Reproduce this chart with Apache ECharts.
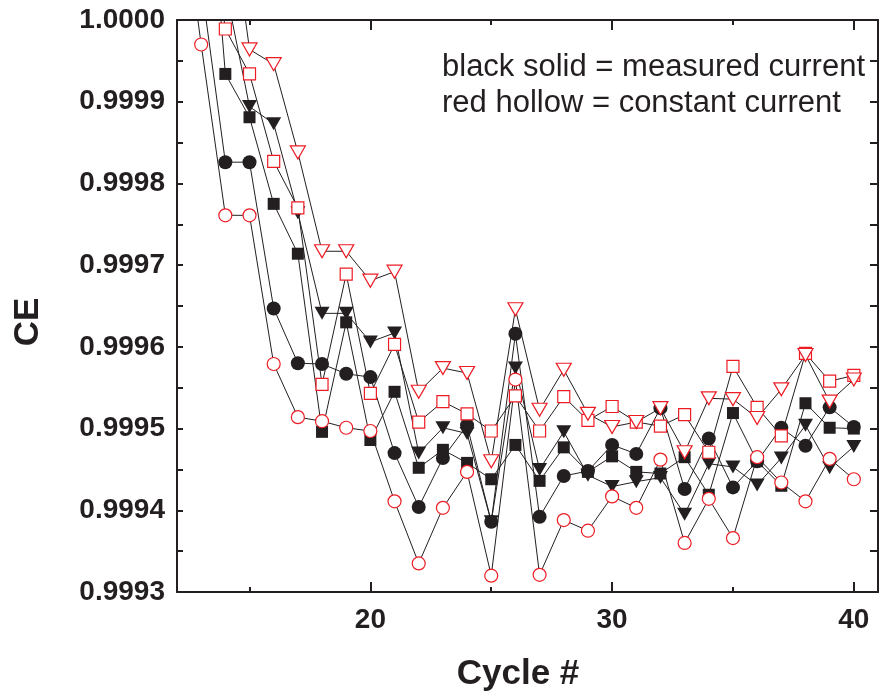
<!DOCTYPE html>
<html>
<head>
<meta charset="utf-8">
<script src="https://cdn.jsdelivr.net/npm/echarts@6/dist/echarts.min.js"></script>
<style>
html,body{margin:0;padding:0;background:#fff;}
#chart{width:880px;height:692px;}
</style>
</head>
<body>
<div id="chart"></div>
<script>
// ---- data ----
const cycles = [12,13,14,15,16,17,18,19,20,21,22,23,24,25,26,27,28,29,30,31,32,33,34,35,36,37,38,39,40];

// black solid = measured current
const blackSquare = [null,1.0003,0.999934,0.999881,0.999775,0.999714,0.999496,0.99963,0.999486,0.999545,0.999452,0.999474,0.999458,0.999438,0.99948,0.999436,0.999477,0.999447,0.999466,0.999447,0.999445,0.999465,0.999419,0.999519,0.99946,0.99943,0.999531,0.999501,0.9995];
const blackCircle = [null,1.000045,0.999826,0.999826,0.999647,0.99958,0.999579,0.999567,0.999563,0.99947,0.999404,0.999464,0.999504,0.999386,0.999616,0.999392,0.999442,0.999448,0.99948,0.999469,0.999525,0.999426,0.999488,0.999428,0.99946,0.999501,0.999479,0.999526,0.999502];
const blackTriangle = [null,null,1.00004,0.999894,0.999873,0.999764,0.999641,0.999641,0.999606,0.999617,0.99947,0.999501,0.999494,0.999386,0.999574,0.99945,0.999496,0.999443,0.999429,0.999435,0.99944,0.999395,0.999457,0.999453,0.999431,0.999464,0.999504,0.999452,0.999478];

// red hollow = constant current
const redSquare = [null,1.0002,0.999989,0.999934,0.999827,0.99977,0.999554,0.999689,0.999543,0.999603,0.999508,0.999533,0.999518,0.999497,0.99954,0.999497,0.999539,0.99951,0.999527,0.999508,0.999503,0.999517,0.999471,0.999576,0.999526,0.999491,0.999592,0.999558,0.999565];
const redCircle = [1.00019,0.99997,0.999761,0.999761,0.999579,0.999514,0.999509,0.999501,0.999497,0.999411,0.999335,0.999403,0.999447,0.99932,0.99956,0.999321,0.999388,0.999375,0.999417,0.999403,0.999462,0.99936,0.999414,0.999366,0.999465,0.999434,0.999411,0.999463,0.999438];
const redTriangle = [null,null,1.00018,0.999964,0.999946,0.999838,0.999717,0.999717,0.999681,0.999692,0.999545,0.999574,0.999568,0.99946,0.999646,0.999523,0.999572,0.999518,0.999502,0.999508,0.999525,0.999471,0.999537,0.999536,0.999513,0.999548,0.99959,0.999533,0.99956];

const xMajorTicks = [20,30,40];
const xMinorTicks = [15,25,35];
const legendLines = ['black solid = measured current','red hollow = constant current'];

// ---- chart ----
const INK = '#231f20';
const RED = '#ed1c24';
const FONT = '"Liberation Sans", Arial, Helvetica, sans-serif';

function pairs(vals){
  const out = [];
  vals.forEach((v,i)=>{ if(v!==null) out.push([cycles[i], v]); });
  return out;
}

const markerDefs = [
  {name:'black triangle', vals:blackTriangle, symbol:'triangle', size:[15,13], rotate:180, fill:INK, stroke:INK},
  {name:'black square', vals:blackSquare, symbol:'rect', size:12, rotate:0, fill:INK, stroke:INK},
  {name:'black circle', vals:blackCircle, symbol:'circle', size:14, rotate:0, fill:INK, stroke:INK},
  {name:'red circle', vals:redCircle, symbol:'circle', size:13, rotate:0, fill:'#fff', stroke:RED},
  {name:'red square', vals:redSquare, symbol:'rect', size:12, rotate:0, fill:'#fff', stroke:RED},
  {name:'red triangle', vals:redTriangle, symbol:'triangle', size:[15,13], rotate:180, fill:'#fff', stroke:RED}
];

const series = [];
markerDefs.forEach(d=>{
  series.push({
    type:'line', name:d.name+' line', data:pairs(d.vals), showSymbol:false, symbol:'none',
    lineStyle:{color:INK, width:1}, z:1, silent:true, animation:false, clip:true
  });
});
markerDefs.forEach(d=>{
  series.push({
    type:'scatter', name:d.name, data:pairs(d.vals), symbol:d.symbol, symbolSize:d.size,
    symbolRotate:d.rotate,
    itemStyle:{color:d.fill, borderColor:d.stroke, borderWidth:d.fill==='#fff'?1.2:0, opacity:1},
    z:3, silent:true, animation:false, clip:true
  });
});

const xBase = {type:'value', min:12, max:41, splitLine:{show:false}, gridIndex:0};
const yBase = {type:'value', min:0.9993, max:1.0, interval:0.0001, splitLine:{show:false}, scale:true};

const option = {
  animation:false,
  backgroundColor:'#fff',
  grid:{left:177, right:2, top:20, bottom:100, containLabel:false},
  xAxis:[
    Object.assign({}, xBase, {position:'bottom',
      axisLine:{show:true, lineStyle:{color:INK, width:2}},
      axisTick:{show:true, inside:true, length:10, customValues:xMajorTicks, lineStyle:{color:INK, width:2}},
      axisLabel:{show:true, customValues:xMajorTicks, margin:14, color:INK, fontSize:28, fontWeight:'bold', fontFamily:FONT}
    }),
    Object.assign({}, xBase, {position:'bottom',
      axisLine:{show:false},
      axisTick:{show:true, inside:true, length:5, customValues:xMinorTicks, lineStyle:{color:INK, width:2}},
      axisLabel:{show:false}
    }),
    Object.assign({}, xBase, {position:'top',
      axisLine:{show:true, lineStyle:{color:INK, width:2}},
      axisTick:{show:true, inside:true, length:10, customValues:xMajorTicks, lineStyle:{color:INK, width:2}},
      axisLabel:{show:false}
    }),
    Object.assign({}, xBase, {position:'top',
      axisLine:{show:false},
      axisTick:{show:true, inside:true, length:5, customValues:xMinorTicks, lineStyle:{color:INK, width:2}},
      axisLabel:{show:false}
    })
  ],
  yAxis:[
    Object.assign({}, yBase, {position:'left',
      axisLine:{show:true, lineStyle:{color:INK, width:2}},
      axisTick:{show:true, inside:true, length:6, lineStyle:{color:INK, width:2}},
      minorTick:{show:true, splitNumber:2, length:6, lineStyle:{color:INK, width:2}},
      axisLabel:{show:true, margin:12, color:INK, fontSize:28, fontWeight:'bold', fontFamily:FONT,
        formatter:v=>Number(v).toFixed(4)}
    }),
    Object.assign({}, yBase, {position:'right',
      axisLine:{show:true, lineStyle:{color:INK, width:2}},
      axisTick:{show:true, inside:true, length:8, lineStyle:{color:INK, width:2}},
      minorTick:{show:true, splitNumber:2, length:8, lineStyle:{color:INK, width:2}},
      axisLabel:{show:false}
    })
  ],
  graphic:[
    {type:'text', x:518, y:674, style:{text:'Cycle #', fill:INK, font:'bold 35px '+FONT, textAlign:'center', textVerticalAlign:'middle'}},
    {type:'text', x:28, y:322, rotation:Math.PI/2, style:{text:'CE', fill:INK, font:'bold 35px '+FONT, textAlign:'center', textVerticalAlign:'middle'}},
    {type:'text', x:442, y:67, style:{text:legendLines[0], fill:INK, font:'31px '+FONT, textAlign:'left', textVerticalAlign:'middle'}},
    {type:'text', x:442, y:103, style:{text:legendLines[1], fill:INK, font:'31px '+FONT, textAlign:'left', textVerticalAlign:'middle'}}
  ],
  series:series
};

const chart = echarts.init(document.getElementById('chart'), null, {renderer:'canvas'});
chart.setOption(option);
</script>
</body>
</html>
